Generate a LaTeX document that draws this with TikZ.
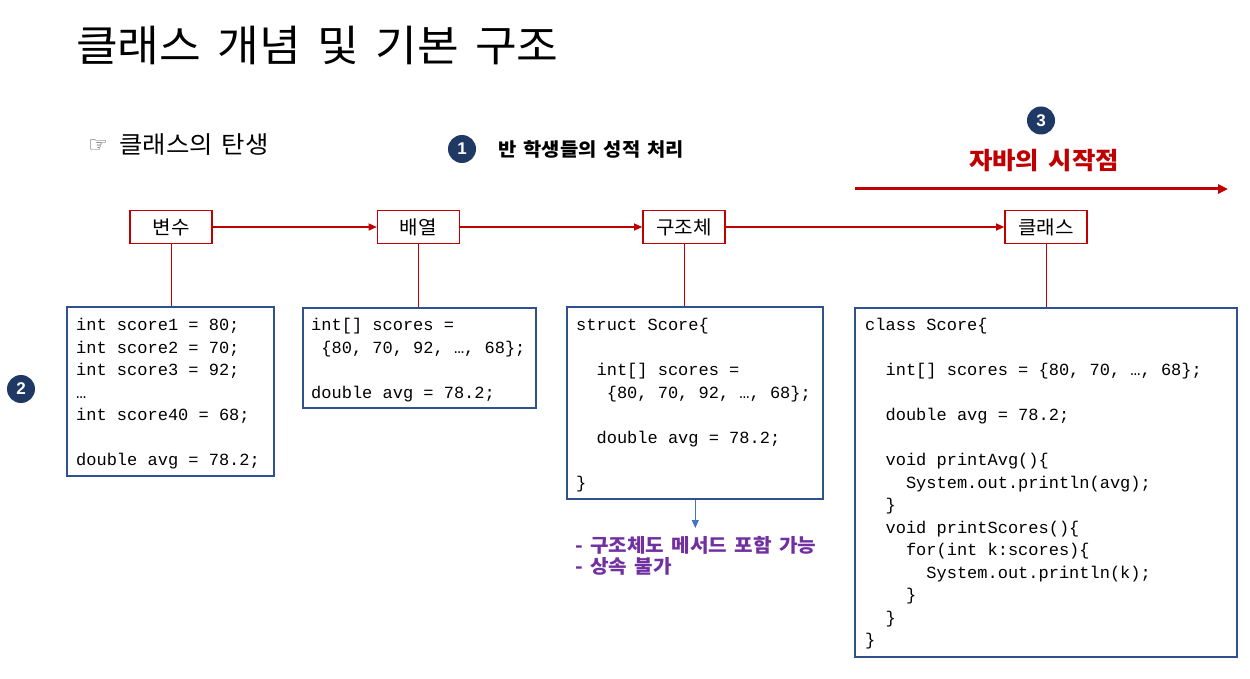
\documentclass[tikz,border=0pt]{standalone}
\usepackage{fontspec}
\newfontfamily\kr[FakeStretch=1.06,WordSpace=1.6]{Noto Sans CJK KR}
\newfontfamily\codefont{Liberation Mono}
\newfontfamily\dejavu{DejaVu Sans}
\newfontfamily\arialf{Liberation Sans}
\usetikzlibrary{arrows.meta}
\definecolor{boxred}{HTML}{C00000}
\definecolor{codeblue}{HTML}{2F528F}
\definecolor{navy}{HTML}{1F3864}
\definecolor{purp}{HTML}{7030A0}
\definecolor{arrblue}{HTML}{4472C4}
\newcommand\ind[1]{\phantom{#1}}
\begin{document}
\begin{tikzpicture}[x=1bp,y=-1bp,
  labelbox/.style={draw=boxred, line width=1.6bp, fill=white, minimum width=82bp, minimum height=33bp, inner sep=0, font=\kr\fontsize{19bp}{22bp}\selectfont},
  codebox/.style={draw=codeblue, line width=2bp, inner sep=0},
  codetext/.style={anchor=north west, inner sep=0, align=left, font=\codefont\fontsize{17bp}{22.5bp}\selectfont},
  num/.style={circle, fill=navy, text=white, minimum size=28bp, inner sep=0, font=\arialf\bfseries\fontsize{17bp}{20bp}\selectfont},
  flow/.style={draw=boxred, line width=1.2bp, -{Triangle[length=8bp,width=7bp]}},
  stem/.style={draw=boxred, line width=0.9bp},
  bigarrow/.style={draw=boxred, line width=3bp, -{Triangle[length=10bp,width=9bp]}},
  downarrow/.style={draw=arrblue, line width=1bp, -{Triangle[length=8bp,width=7bp]}}
]
\useasboundingbox (0,0) rectangle (1250,679);

% title
\node[anchor=west, inner sep=0, font=\kr\fontsize{42.8bp}{50bp}\selectfont] (title) at (76,45) {클래스 개념 및 기본 구조};

% subtitle
\node[inner sep=0, text=black!70, font=\dejavu\fontsize{22bp}{26bp}\selectfont] (hand) at (98,146) {☞};
\node[anchor=west, inner sep=0, font=\kr\fontsize{24bp}{28bp}\selectfont] (birth) at (119,144.5) {클래스의 탄생};

% numbered circles
\node[num] (n1) at (462,149) {1};
\node[num] (n2) at (21,389) {2};
\node[num] (n3) at (1041,120.5) {3};

\node[anchor=west, inner sep=0, font=\kr\bfseries\fontsize{18.7bp}{23bp}\selectfont] (t1) at (498,149) {반 학생들의 성적 처리};
\node[inner sep=0, text=boxred, font=\kr\bfseries\fontsize{24bp}{28bp}\selectfont] (t3) at (1044,161) {자바의 시작점};

% big red arrow
\coordinate (ra) at (855,189);
\coordinate (rb) at (1228,189);
\draw[bigarrow] (ra) -- (rb);

% label boxes
\node[labelbox] (v1) at (171,227) {변수};
\node[labelbox] (v2) at (418.5,227) {배열};
\node[labelbox] (v3) at (684,227) {구조체};
\node[labelbox] (v4) at (1046,227) {클래스};

\draw[flow] (v1) -- (v2);
\draw[flow] (v2) -- (v3);
\draw[flow] (v3) -- (v4);

% code boxes
\node[codebox, minimum width=207.6bp, minimum height=168.4bp] (c1) at (170.5,391.5) {};
\node[codebox, minimum width=233bp, minimum height=100.8bp] (c2) at (419.2,357.9) {};
\node[codebox, minimum width=256bp, minimum height=191.7bp] (c3) at (695.3,403.2) {};
\node[codebox, minimum width=382bp, minimum height=349bp] (c4) at (1046,482.2) {};

\draw[stem] (v1.south) -- (v1.south |- c1.north);
\draw[stem] (v2.south) -- (v2.south |- c2.north);
\draw[stem] (v3.south) -- (v3.south |- c3.north);
\draw[stem] (v4.south) -- (v4.south |- c4.north);

% code texts
\node[codetext] (k1) at (76,314.8) {\strut int score1 = 80;\\
int score2 = 70;\\
int score3 = 92;\\
…\\
int score40 = 68;\\
\strut\\
double avg = 78.2;};

\node[codetext] (k2) at (311,314.8) {\strut int[] scores =\\
\ind{x}\{80, 70, 92, …, 68\};\\
\strut\\
double avg = 78.2;};

\node[codetext] (k3) at (576,314.8) {\strut struct Score\{\\
\strut\\
\ind{xx}int[] scores =\\
\ind{xxx}\{80, 70, 92, …, 68\};\\
\strut\\
\ind{xx}double avg = 78.2;\\
\strut\\
\}};

\node[codetext] (k4) at (865,314.8) {\strut class Score\{\\
\strut\\
\ind{xx}int[] scores = \{80, 70, …, 68\};\\
\strut\\
\ind{xx}double avg = 78.2;\\
\strut\\
\ind{xx}void printAvg()\{\\
\ind{xxxx}System.out.println(avg);\\
\ind{xx}\}\\
\ind{xx}void printScores()\{\\
\ind{xxxx}for(int k:scores)\{\\
\ind{xxxxxx}System.out.println(k);\\
\ind{xxxx}\}\\
\ind{xx}\}\\
\}};

% note under struct
\node[anchor=west, inner sep=0, align=left, text=purp, font=\kr\bfseries\fontsize{19bp}{21bp}\selectfont] (note) at (575,556) {- 구조체도 메서드 포함 가능\\- 상속 불가};
\coordinate (pa) at (695.3,528);
\draw[downarrow] (c3.south) -- (pa);
\end{tikzpicture}
\end{document}
